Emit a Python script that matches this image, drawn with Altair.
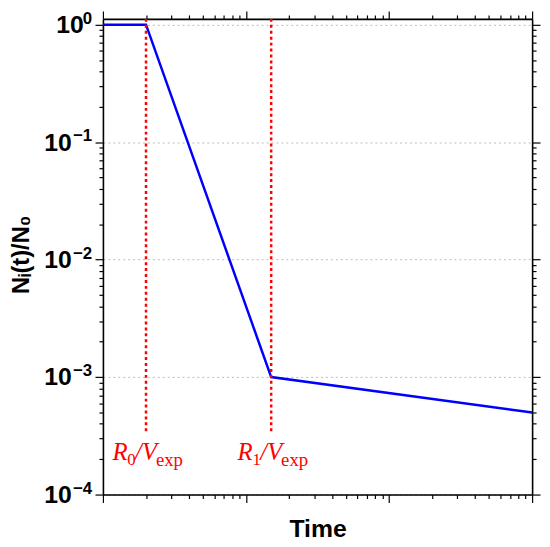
import altair as alt
import pandas as pd

# ---- data ----
line_t = [1, 2, 15, 1000]
line_n = [1.0, 1.0, 1e-3, 5e-4]

marker_t = [2, 15]
marker_sub = ["0", "1"]
marker_top = [1.12, 1.12]
marker_bottom = [3.4e-4, 3.4e-4]
label_y = [1.97e-4, 1.97e-4]

y_major = [1.0, 0.1, 0.01, 0.001, 0.0001]
y_major_base = ["10", "10", "10", "10", "10"]
y_major_exp = ["0", "−1", "−2", "−3", "−4"]
x_major = [1, 10, 100, 1000]

# minor tick positions
y_ticks = [float(f"{k}e{e}") for e in range(-4, 0) for k in range(1, 10)] + [1.0]
x_ticks = [float(f"{k}e{e}") for e in range(0, 3) for k in range(1, 10)] + [1000.0]

line_df = pd.DataFrame({"t": line_t, "n": line_n})
mark_df = pd.DataFrame({"t": marker_t, "sub": marker_sub, "top": marker_top,
                        "bottom": marker_bottom, "ly": label_y})
exp_df = pd.DataFrame({"v": y_major, "e": y_major_exp})

def major_test(vals):
    return " || ".join(f"datum.value == {v}" for v in vals)

ytest = major_test(y_major)
xtest = major_test(x_major)

label_expr = ""
for v, lab in zip(y_major, y_major_base):
    label_expr += f"datum.value == {v} ? '{lab}' : "
label_expr += "''"

ysc = alt.Scale(type="log", domain=[1e-4, 1.12], nice=False)
xsc = alt.Scale(type="log", domain=[1, 1000], nice=False)

common_axis = dict(domainColor="black", domainWidth=1.6, tickColor="black", tickWidth=1.2)

y_left = alt.Axis(values=y_ticks, labelExpr=label_expr, orient="left",
                  tickSize={"condition": {"test": ytest, "value": 8}, "value": 4},
                  grid=True, gridDash=[2, 3], gridColor="#bbbbbb", gridWidth=1,
                  gridOpacity={"condition": {"test": ytest, "value": 1}, "value": 0},
                  labelFont="Liberation Sans", labelFontWeight="bold", labelFontSize=25,
                  labelColor="black", labelBaseline="middle",
                  labelPadding={"condition": {"test": "datum.value == 1", "value": 12}, "value": 24},
                  title="Nᵢ(t)/N₀", titleFont="Liberation Sans", titleFontWeight="bold",
                  titleFontSize=24, titleColor="black", titleX=-70, titleY=238,
                  **common_axis)
x_bottom = alt.Axis(values=x_ticks, labels=False, orient="bottom", grid=False,
                    tickSize={"condition": {"test": xtest, "value": 8}, "value": 4},
                    title="Time", titleFont="Liberation Sans", titleFontWeight="bold",
                    titleFontSize=25, titleColor="black", titlePadding=14,
                    **common_axis)
y_right = alt.Axis(values=y_ticks, labels=False, orient="right", grid=False, title=None,
                   tickSize={"condition": {"test": ytest, "value": 8}, "value": 4},
                   **common_axis)
x_top = alt.Axis(values=x_ticks, labels=False, orient="top", grid=False, title=None,
                 tickSize={"condition": {"test": xtest, "value": 8}, "value": 4},
                 **common_axis)

line = alt.Chart(line_df).mark_line(color="#0000ff", strokeWidth=2.5).encode(
    x=alt.X("t:Q", scale=xsc, axis=x_bottom),
    y=alt.Y("n:Q", scale=ysc, axis=y_left),
)

rules = alt.Chart(mark_df).mark_rule(color="#ff0000", strokeWidth=2.5, strokeDash=[3, 3]).encode(
    x=alt.X("t:Q", scale=xsc, axis=x_top),
    y=alt.Y("top:Q", scale=ysc, axis=y_right),
    y2="bottom:Q",
)

# exponent superscripts of the y tick labels
exps = alt.Chart(exp_df).mark_text(font="Liberation Sans", fontWeight="bold", fontSize=17,
                                   color="black", align="right", baseline="alphabetic",
                                   dy=-1).encode(
    x=alt.value(-11),
    y=alt.Y("v:Q", scale=ysc, axis=None),
    text="e:N",
)

txt_base = alt.Chart(mark_df)
enc = dict(x=alt.X("t:Q", scale=xsc, axis=None), y=alt.Y("ly:Q", scale=ysc, axis=None))
serif = "Liberation Serif"
t_r = txt_base.mark_text(text="R", font=serif, fontStyle="italic", fontSize=25, color="#ff0000",
                         align="left", baseline="alphabetic", dx=-34).encode(**enc)
t_sub = txt_base.mark_text(font=serif, fontSize=17, color="#ff0000",
                           align="left", baseline="alphabetic", dx=-19, dy=5).encode(
    text="sub:N", **enc)
t_v = txt_base.mark_text(text="/V", font=serif, fontStyle="italic", fontSize=25, color="#ff0000",
                         align="left", baseline="alphabetic", dx=-11).encode(**enc)
t_exp = txt_base.mark_text(text="exp", font=serif, fontSize=19, color="#ff0000",
                           align="left", baseline="alphabetic", dx=10, dy=6).encode(**enc)

chart = alt.layer(line, rules, exps, t_r, t_sub, t_v, t_exp).resolve_axis(
    x="independent", y="independent"
).properties(
    width=434, height=481,
    autosize=alt.AutoSizeParams(type="none"),
    padding={"left": 96, "top": 8, "right": 10, "bottom": 50},
).configure_view(stroke=None).configure(background="white")

chart.save("out.html", embed_options={"renderer": "svg", "actions": False})
